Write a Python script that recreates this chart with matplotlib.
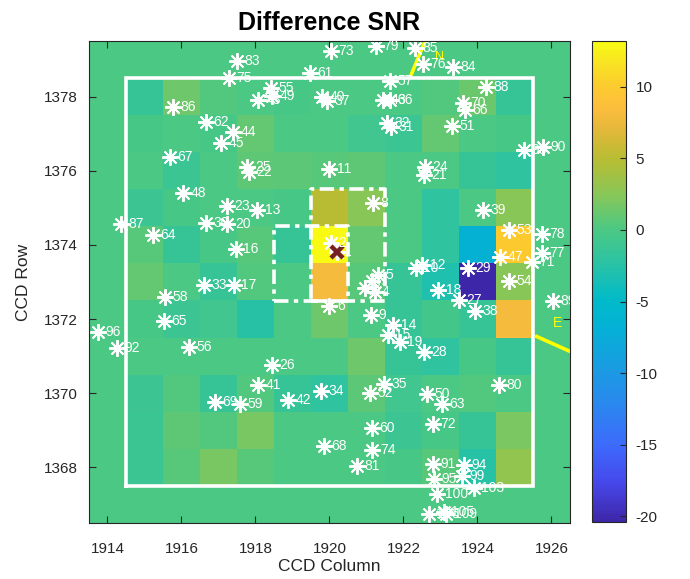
import numpy as np
import matplotlib
matplotlib.use("Agg")
import matplotlib.pyplot as plt
from matplotlib.colors import LinearSegmentedColormap

plt.rcParams['font.family'] = ['Liberation Sans', 'DejaVu Sans']
plt.rcParams['axes.unicode_minus'] = False

# ---------------------------------------------------------------------------
# datos: SNR de la imagen diferencia (filas 1378 -> 1368, columnas 1915 -> 1925)
# ---------------------------------------------------------------------------
col_ini, col_fin = 1915, 1925
fila_ini, fila_fin = 1368, 1378

snr = np.array([
    [-1.5,  1.5,  0.3,  0.0, -0.3,  0.0,  0.0,  0.0,  0.3,  1.3, -1.5],  # 1378
    [-0.3,  0.0, -0.3,  1.0,  0.0,  0.0, -0.8, -1.2,  1.0,  0.0, -0.3],  # 1377
    [ 0.0, -1.2,  0.0,  0.8,  0.7,  0.5,  0.8,  0.0,  0.0, -1.5, -2.0],  # 1376
    [-1.0, -0.3,  0.0,  0.0, -0.3,  5.0,  2.5,  0.0, -2.0,  0.0,  2.5],  # 1375
    [ 0.5, -1.5, -0.3,  0.5, -1.5, 13.2,  1.0,  0.0, -2.0, -6.5, 10.0],  # 1374
    [ 1.0,  0.0, -1.5,  0.3,  0.0,  8.0,  0.5, -1.5, -3.0, -20.4, 2.5],  # 1373
    [-0.3, -1.0, -0.8, -2.5,  0.0,  1.5,  0.0, -1.5, -0.5, -1.5,  8.0],  # 1372
    [ 0.0,  0.0,  0.0,  0.0,  0.0,  0.0,  1.5, -1.5, -2.0, -0.3, -1.5],  # 1371
    [-1.0,  0.3, -1.5,  0.3, -1.5, -2.0,  0.7, -0.8,  0.0,  0.3,  0.0],  # 1370
    [-1.2,  0.8,  0.3,  1.8,  0.0,  0.0,  0.0, -1.0, -0.3, -1.5,  2.0],  # 1369
    [-1.2,  0.5,  1.8,  0.5,  0.0,  0.0,  0.0, -0.3,  0.5, -2.5,  3.0],  # 1368
])

# estrellas del catalogo (columna, fila, etiqueta)
star_x = [1917.49, 1917.28, 1918.43, 1918.45, 1918.07, 1919.47, 1915.77, 1916.65,
          1917.39, 1917.08, 1915.68, 1917.78, 1917.82, 1916.04, 1920.00, 1920.05,
          1921.25, 1922.30, 1922.53, 1923.34, 1921.63, 1924.24, 1919.80, 1919.92,
          1921.45, 1921.63, 1923.61, 1923.66, 1921.56, 1921.66, 1923.30, 1925.26,
          1925.77, 1922.58, 1922.55, 1921.18, 1924.14, 1924.85, 1925.73, 1925.73,
          1925.46, 1924.62, 1920.05, 1920.20, 1922.33, 1922.51, 1923.75, 1924.85,
          1922.94, 1923.50, 1923.93, 1926.03, 1921.30, 1921.15, 1920.95, 1921.22,
          1920.00, 1921.13, 1921.72, 1921.58, 1921.90, 1922.55, 1917.22, 1918.05,
          1914.36, 1916.65, 1917.24, 1915.23, 1917.46, 1916.60, 1917.42, 1915.55,
          1915.52, 1913.75, 1914.26, 1916.20, 1918.45, 1918.07, 1916.90, 1917.59,
          1918.88, 1919.78, 1919.85, 1921.48, 1921.09, 1922.64, 1923.04, 1924.58,
          1921.14, 1922.80, 1921.16, 1920.73, 1922.80, 1923.63, 1922.83, 1923.57,
          1922.91, 1923.90, 1922.69, 1923.09, 1923.16]
star_y = [1378.96, 1378.51, 1378.24, 1378.02, 1377.90, 1378.64, 1377.71, 1377.31,
          1377.04, 1376.75, 1376.36, 1376.11, 1375.96, 1375.39, 1376.05, 1379.23,
          1379.36, 1379.32, 1378.89, 1378.80, 1378.41, 1378.26, 1378.00, 1377.88,
          1377.92, 1377.90, 1377.83, 1377.65, 1377.29, 1377.17, 1377.21, 1376.56,
          1376.65, 1376.11, 1375.89, 1375.12, 1374.94, 1374.41, 1374.30, 1373.78,
          1373.54, 1373.67, 1374.04, 1373.80, 1373.38, 1373.45, 1373.38, 1373.03,
          1372.79, 1372.52, 1372.21, 1372.50, 1373.18, 1373.02, 1372.85, 1372.72,
          1372.36, 1372.12, 1371.85, 1371.58, 1371.37, 1371.10, 1375.05, 1374.94,
          1374.56, 1374.58, 1374.56, 1374.26, 1373.90, 1372.91, 1372.91, 1372.59,
          1371.94, 1371.64, 1371.22, 1371.25, 1370.76, 1370.21, 1369.76, 1369.70,
          1369.82, 1370.06, 1368.59, 1370.24, 1370.00, 1369.99, 1369.72, 1370.22,
          1369.07, 1369.16, 1368.46, 1368.03, 1368.09, 1368.07, 1367.68, 1367.78,
          1367.29, 1367.44, 1366.75, 1366.79, 1366.75]
star_lbl = ['83', '75', '55', '49', '43', '61', '86', '62',
            '44', '45', '67', '25', '22', '48', '11', '73',
            '79', '85', '76', '84', '57', '88', '40', '37',
            '46', '36', '70', '66', '32', '31', '51', '93',
            '90', '24', '21', '8', '39', '53', '78', '77',
            '71', '47', '2', '1', '10', '12', '29', '54',
            '18', '27', '38', '89', '5', '7', '3', '4',
            '6', '9', '14', '15', '19', '28', '23', '13',
            '87', '30', '20', '64', '16', '33', '17', '58',
            '65', '96', '92', '56', '26', '41', '69', '59',
            '42', '34', '68', '35', '52', '50', '63', '80',
            '60', '72', '74', '81', '91', '94', '95', '99',
            '100', '103', '106', '105', '109']

# objetivo (cruz) y cajas de apertura
obj_x, obj_y = 1920.20, 1373.80
caja_ext = (1914.5, 1925.5, 1367.5, 1378.5)
caja_1 = (1919.5, 1921.5, 1372.5, 1375.5)
caja_2 = (1918.5, 1920.5, 1372.5, 1374.5)

# brujula N / E
norte_x, norte_y = [1922.22, 1922.75], [1378.62, 1379.9]
este_x, este_y = [1925.60, 1926.9], [1371.53, 1370.95]

# ---------------------------------------------------------------------------
# mapa de color tipo parula
# ---------------------------------------------------------------------------
parula = LinearSegmentedColormap.from_list('parula', [
    (0.00, (0.243, 0.150, 0.660)),
    (0.08, (0.275, 0.280, 0.920)),
    (0.16, (0.240, 0.420, 0.990)),
    (0.25, (0.160, 0.540, 0.930)),
    (0.33, (0.090, 0.620, 0.880)),
    (0.40, (0.020, 0.690, 0.840)),
    (0.46, (0.000, 0.730, 0.790)),
    (0.53, (0.150, 0.760, 0.660)),
    (0.61, (0.300, 0.785, 0.510)),
    (0.68, (0.530, 0.780, 0.350)),
    (0.755, (0.720, 0.740, 0.200)),
    (0.82, (0.900, 0.720, 0.230)),
    (0.86, (0.985, 0.740, 0.240)),
    (0.91, (0.990, 0.800, 0.180)),
    (0.96, (0.970, 0.900, 0.130)),
    (1.00, (0.977, 0.984, 0.080)),
], N=256)

# imagen completa con un borde de ceros alrededor
img = np.pad(snr, 1)
x0, x1 = col_ini - 1.5, col_fin + 1.5
y0, y1 = fila_ini - 1.5, fila_fin + 1.5

fig = plt.figure(figsize=(6.9, 5.79), dpi=100)
ax = fig.add_axes([89/690, 1 - 523/579, 481/690, 482/579])
im = ax.imshow(img, cmap=parula, extent=[x0, x1, y0, y1], origin='upper',
               aspect='auto', interpolation='nearest',
               vmin=snr.min(), vmax=snr.max())

gris = '#262626'

def rect(c, **kw):
    xa, xb, ya, yb = c
    ax.plot([xa, xb, xb, xa, xa], [ya, ya, yb, yb, ya], color='white', **kw)

rect(caja_ext, lw=2.6, solid_joinstyle='miter')
rect(caja_1, lw=2.6, dashes=(4, 1.5, 1.2, 1.5))
rect(caja_2, lw=2.6, dashes=(4, 1.5, 1.2, 1.5))

ax.plot(norte_x, norte_y, color='yellow', lw=2.6)
ax.plot(este_x, este_y, color='yellow', lw=2.6)
ax.text(1922.85, 1379.08, 'N', color='yellow', fontsize=9, ha='left', va='center')
ax.text(1926.05, 1371.9, 'E', color='yellow', fontsize=10, ha='left', va='center')

ax.plot(star_x, star_y, ls='none', marker=(8, 2, 0), ms=12, mew=1.4,
        color='white')
for sx, sy, s in zip(star_x, star_y, star_lbl):
    ax.text(sx + 0.2, sy, s, color='white', fontsize=10, ha='left',
            va='center', clip_on=True)

ax.plot(obj_x, obj_y, ls='none', marker='x', ms=9, mew=3.2, color='#772222')

ax.set_xlim(x0, x1)
ax.set_ylim(y0, y1)
ax.set_xticks(np.arange(1914, 1927, 2))
ax.set_yticks(np.arange(1368, 1379, 2))
ax.tick_params(direction='in', top=True, right=True, labelsize=11,
               colors=gris, length=5, width=0.8)
ax.tick_params(axis='x', pad=14)
ax.tick_params(axis='y', pad=8)
for sp in ax.spines.values():
    sp.set_color(gris)
    sp.set_linewidth(0.8)
ax.set_xlabel('CCD Column', fontsize=12.5, color=gris, labelpad=2)
ax.set_ylabel('CCD Row', fontsize=12.5, color=gris, labelpad=9)
ax.set_title('Difference SNR', fontsize=18, fontweight='bold', pad=8)

cax = fig.add_axes([592/690, 1 - 522/579, 34/690, 481/579])
cb = fig.colorbar(im, cax=cax, ticks=[-20, -15, -10, -5, 0, 5, 10])
cb.ax.tick_params(direction='in', labelsize=11, colors=gris, length=4,
                  width=0.8, pad=7)
cb.outline.set_edgecolor(gris)
cb.outline.set_linewidth(0.8)

plt.savefig('out.png', dpi=100)
